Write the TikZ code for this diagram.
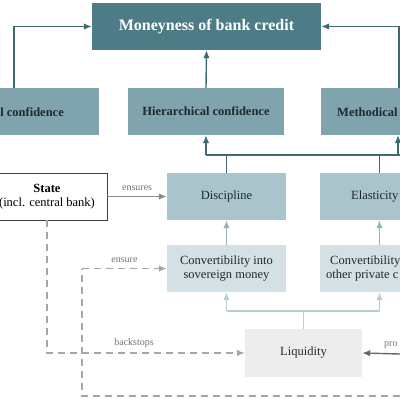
\documentclass[tikz,border=0pt]{standalone}
\usepackage{fontspec}
\setmainfont{Liberation Serif}
\usetikzlibrary{arrows.meta}
\definecolor{cTop}{HTML}{4D7C87}
\definecolor{cMid}{HTML}{7FA4AE}
\definecolor{cDisc}{HTML}{A9C4CA}
\definecolor{cConv}{HTML}{D4E1E4}
\definecolor{cLiq}{HTML}{EDEDED}
\definecolor{cDark}{HTML}{3E6873}
\definecolor{cArrMid}{HTML}{94B3BA}
\definecolor{cArrLight}{HTML}{B8CED3}
\definecolor{cGray}{HTML}{8A8A8A}
\definecolor{cText}{HTML}{1E2A2E}
\tikzset{
  tip/.style={-{Latex[length=8pt,width=6.5pt]}},
  boxbase/.style={draw=none, inner sep=0pt, minimum height=47pt},
  topbox/.style={boxbase, fill=cTop, minimum width=229pt, text=white, font=\fontsize{16}{18}\selectfont\bfseries},
  midbox/.style={boxbase, fill=cMid, minimum width=156pt, text=cText, font=\fontsize{12.5}{14}\selectfont\bfseries},
  discbox/.style={boxbase, fill=cDisc, minimum width=119pt, text=cText, font=\fontsize{12.5}{14}\selectfont},
  convbox/.style={boxbase, fill=cConv, minimum width=119pt, text=cText, font=\fontsize{12.5}{14.5}\selectfont, align=center},
  liqbox/.style={boxbase, fill=cLiq, minimum width=117pt, minimum height=48pt, text=cText, font=\fontsize{12.5}{14}\selectfont},
  statebox/.style={draw=black!75, line width=0.9pt, fill=white, minimum width=120pt, minimum height=47pt, inner sep=0pt, align=center, font=\fontsize{12.5}{14.5}\selectfont},
  txt/.style={inner sep=0pt, text=cText, font=\fontsize{12.5}{14.5}\selectfont},
  lbl/.style={inner sep=0pt, text=black!55, font=\fontsize{10}{12}\selectfont},
  darr/.style={draw=cDark, line width=1.4pt, tip},
  dline/.style={draw=cDark, line width=1.4pt},
  marr/.style={draw=cArrMid, line width=1.4pt, tip},
  larr/.style={draw=cArrLight, line width=1.4pt, tip},
  lline/.style={draw=cArrLight, line width=1.4pt},
  garr/.style={draw=cGray, line width=1.4pt, tip},
  gdash/.style={draw=black!35, line width=1.3pt, dash pattern=on 7pt off 5pt},
  gdasharr/.style={gdash, tip},
}
\begin{document}
\begin{tikzpicture}[x=1pt,y=-1pt]
\useasboundingbox (0,0) rectangle (400,400);
\clip (0,0) rectangle (400,400);
% nodes
\node[topbox] (money) at (206.5,26.5) {Moneyness of bank credit};
\node[midbox, minimum width=170pt] (pers) at (14,111.5) {};
\node[txt, font=\fontsize{12.5}{14}\selectfont\bfseries, anchor=east] (perstxt) at (64,112) {l confidence};
\node[midbox] (hier) at (206,111.5) {Hierarchical confidence};
\node[midbox] (meth) at (399,111.5) {};
\node[txt, font=\fontsize{12.5}{14}\selectfont\bfseries, anchor=west] (methtxt) at (337,112) {Methodical};
\node[statebox] (state) at (47,196.5) {\textbf{State}\\(incl. central bank)};
\node[discbox] (disc) at (226.5,196.5) {Discipline};
\node[discbox] (elas) at (379.5,196.5) {};
\node[txt, anchor=west] (elastxt) at (351,197) {Elasticity};
\node[convbox] (conv1) at (226.5,268.5) {Convertibility into\\sovereign money};
\node[convbox] (conv2) at (379.5,268.5) {};
\node[txt, anchor=west, align=left] (conv2txt) at (326,268.5) {\hspace{4pt}Convertibility\\other private c};
\node[liqbox] (liq) at (303.5,353) {Liquidity};
% free ends
\coordinate (rmerge) at (400,155);
\coordinate (rprov) at (400,354);
\coordinate (rbot) at (400,396);
% top arrows
\draw[darr] (pers.north) |- (money.west);
\draw[darr] (meth.north) |- (money.east);
\draw[darr] (hier.north) -- (money.south);
% merge to confidences
\draw[dline] (disc.north) -- (226.5,155);
\draw[dline] (elas.north) -- (379.5,155);
\draw[dline] (206,155) -- (rmerge);
\draw[darr] (206,155) -- (hier.south);
\draw[darr] (398,155) -- (398,135);
% conv to disc/elas
\draw[marr] (conv1.north) -- (disc.south);
\draw[marr] (conv2.north) -- (elas.south);
% liquidity to conv
\draw[lline] (liq.north) -- (303.5,311);
\draw[lline] (226.5,311) -- (379.5,311);
\draw[larr] (226.5,311) -- (conv1.south);
\draw[larr] (379.5,311) -- (conv2.south);
% state ensures
\draw[garr] (state.east) -- node[lbl, above=5pt] {ensures} (disc.west);
% dashed
\draw[gdasharr] (state.south) |- node[lbl, pos=0.72, above=5pt] {backstops} (liq.west);
\draw[gdash] (rbot) -| (82,268.5);
\draw[gdasharr] (82,268.5) -- node[lbl, above=5pt] {ensure} (conv1.west);
% provides
\draw[draw=black!60, line width=1.4pt, tip] (rprov) -- (liq.east);
\node[lbl, anchor=west] (provlbl) at (384,345) {pro};
\end{tikzpicture}
\end{document}
